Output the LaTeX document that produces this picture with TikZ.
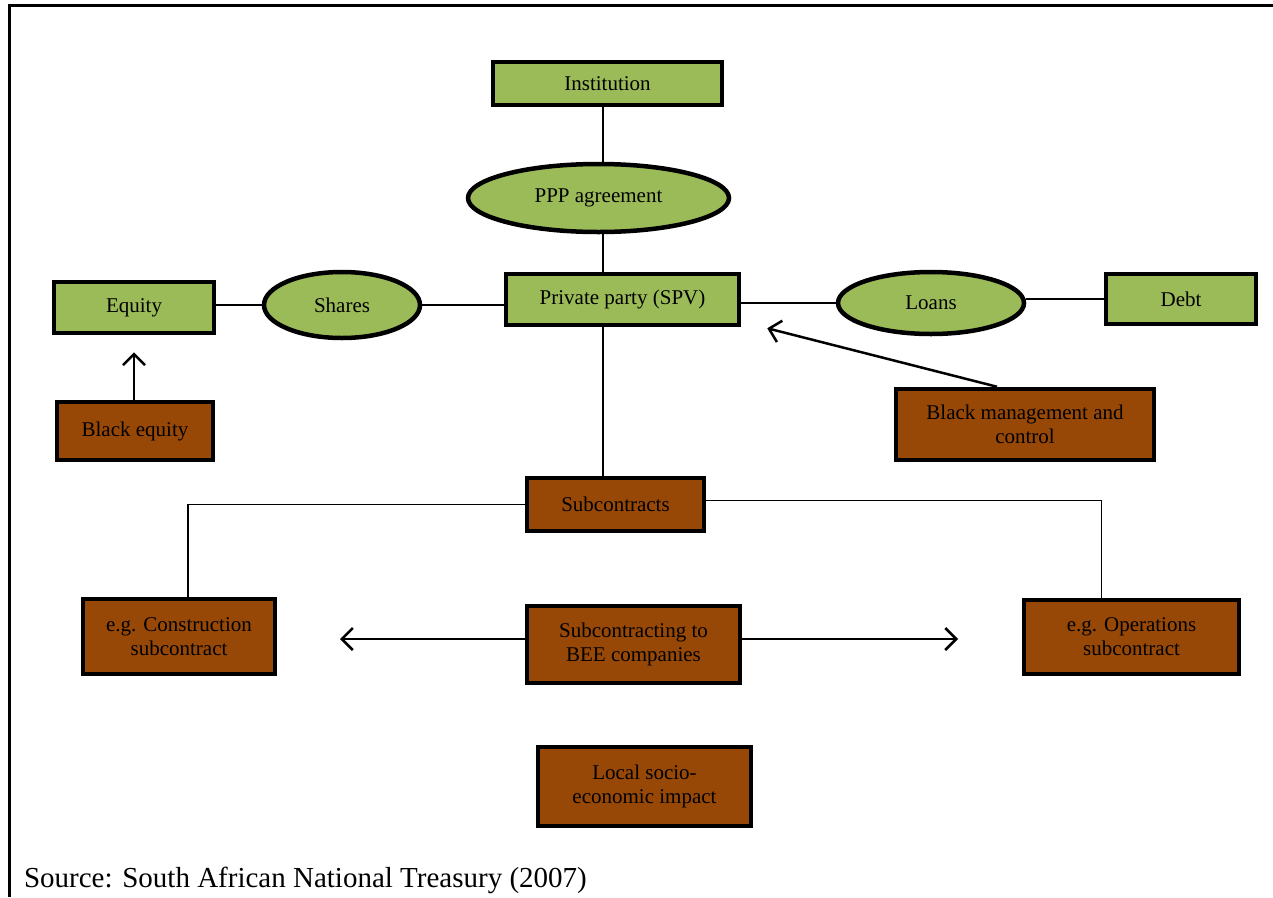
\documentclass[tikz,border=0pt]{standalone}
\usepackage{fontspec}
\setmainfont{Liberation Serif}
\usetikzlibrary{arrows.meta, shapes}

\definecolor{leaf}{HTML}{9BBB59}
\definecolor{rust}{HTML}{974806}

\begin{document}
\begin{tikzpicture}[x=1pt, y=-1pt, >={Straight Barb[length=11pt, width=22pt]}, line width=1.5pt,
	every node/.style={font=\fontsize{21}{24}\selectfont, align=center},
	greenbox/.style={draw, line width=4.5pt, fill=leaf, rectangle, inner sep=2pt},
	brownbox/.style={draw, line width=4.5pt, fill=rust, rectangle, inner sep=2pt},
	greenoval/.style={draw, line width=4.5pt, fill=leaf, ellipse, inner sep=0pt}]
		\useasboundingbox (0, 0) rectangle (1273, 897);
		\draw[line width=3pt] (9, 897) -- (9, 5.5) -- (1273, 5.5);
		
		\node[greenbox, minimum width=229, minimum height=43] (inst) at (607.5, 83.5) {Institution};
		\node[greenoval, minimum width=261, minimum height=68] (ppp) at (598.5, 198) {PPP agreement};
		\node[greenbox, minimum width=233, minimum height=51] (priv) at (622.5, 299.5) {Private party (SPV)};
		
		\node[greenbox, minimum width=160, minimum height=51] (eq) at (134, 307.5) {Equity};
		\node[greenoval, minimum width=156, minimum height=66] (shares) at (342, 305) {Shares};
		\node[greenoval, minimum width=186, minimum height=62] (loans) at (931, 303) {Loans};
		\node[greenbox, minimum width=150, minimum height=50] (debt) at (1181, 299) {Debt};
		
		\node[brownbox, minimum width=156, minimum height=58] (beq) at (135, 431) {Black equity};
		\node[brownbox, minimum width=258, minimum height=71] (bmc) at (1025, 424.5) {Black management and\\control};
		\node[brownbox, minimum width=177, minimum height=53] (sub) at (615.5, 504.5) {Subcontracts};
		
		\node[brownbox, minimum width=192, minimum height=75] (con) at (179, 636.5) {e.g. Construction\\subcontract};
		\node[brownbox, minimum width=213, minimum height=77] (bee) at (633.5, 644.5) {Subcontracting to\\BEE companies};
		\node[brownbox, minimum width=215, minimum height=74] (ops) at (1131.5, 637) {e.g. Operations\\subcontract};
		\node[brownbox, minimum width=213, minimum height=79] (local) at (644.5, 786.5) {Local socio-\\economic impact};
		
		\node[anchor=west, font=\fontsize{29}{34}\selectfont] (src) at (20, 880) {Source: South African National Treasury (2007)};
		
		\coordinate (spine) at (603, 0);
		\coordinate (lefttip) at (340, 639);
		\coordinate (righttip) at (958, 639);
		
		% plain links
		\path[-] (inst.south -| spine) edge (ppp.north -| spine)
			(ppp.south -| spine) edge (priv.north -| spine)
			(priv.south -| spine) edge (sub.north -| spine)
			(eq.east |- shares) edge (shares)
			(shares) edge (priv.west |- shares)
			(priv.east |- loans) edge (loans)
			(loans.east |- debt) edge (debt);
		\draw (sub.west) -| ([xshift=9pt]con.north);
		\draw ([yshift=4pt]sub.east) -| ([xshift=-30pt]ops.north);
		
		% arrows
		\path[->, line width=2.5pt] (beq.north -| eq.south) edge[shorten >=17pt] (eq.south)
			([xshift=-28pt]bmc.north) edge ([xshift=26pt, yshift=-1pt]priv.south east)
			(lefttip -| bee.west) edge (lefttip)
			(righttip -| bee.east) edge (righttip);
		
	\end{tikzpicture}
\end{document}
